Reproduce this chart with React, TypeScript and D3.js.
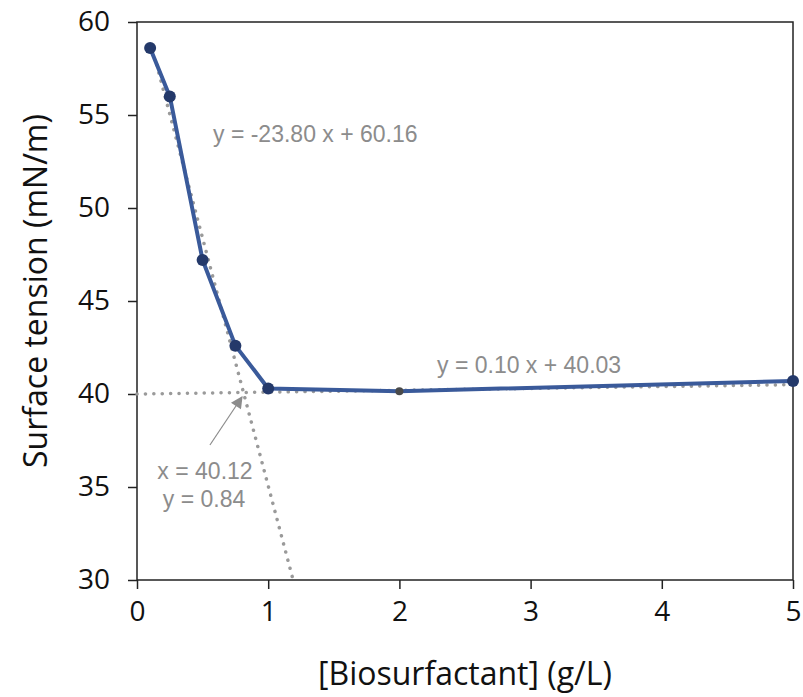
import React, { useEffect, useRef } from "react";
import * as d3 from "d3";

// measured concentrations (g/L) and surface tension (mN/m)
const concentrations = [0.1, 0.25, 0.5, 0.75, 1, 2, 5];
const tensions = [58.6, 56.0, 47.2, 42.6, 40.3, 40.15, 40.7];

// fitted trend lines, endpoints
const steepTrendX = [0.15, 1.19];
const steepTrendY = [57.7, 30];
const flatTrendX = [0, 5];
const flatTrendY = [40.0, 40.5];

const xTicks = [0, 1, 2, 3, 4, 5];
const yTicks = [30, 35, 40, 45, 50, 55, 60];

const steepLabel = "y = -23.80 x + 60.16";
const flatLabel = "y = 0.10 x + 40.03";
const crossLabel = ["x = 40.12", "y = 0.84"];

function App() {
  const ref = useRef<SVGSVGElement>(null);

  useEffect(() => {
    const width = 803;
    const height = 697;
    const margin = { top: 22, right: 10, bottom: 117, left: 137 };

    const svg = d3.select(ref.current);
    svg.selectAll("*").remove();

    const x = d3.scaleLinear().domain([0, 5]).range([margin.left, width - margin.right]);
    const y = d3.scaleLinear().domain([30, 60]).range([height - margin.bottom, margin.top]);

    const tickFont = "'Open Sans', sans-serif";
    const grey = "#8c8c8c";

    // frame
    svg
      .append("rect")
      .attr("x", x(0))
      .attr("y", y(60))
      .attr("width", x(5) - x(0))
      .attr("height", y(30) - y(60))
      .attr("fill", "none")
      .attr("stroke", "#222")
      .attr("stroke-width", 1.5);

    // y axis
    const yAxis = svg
      .append("g")
      .attr("transform", `translate(${x(0)},0)`)
      .call(d3.axisLeft(y).tickValues(yTicks).tickSize(9).tickPadding(18));
    yAxis.select(".domain").remove();
    yAxis.selectAll("line").attr("stroke", "#222").attr("stroke-width", 1.5);
    yAxis
      .selectAll("text")
      .attr("font-family", tickFont)
      .attr("font-size", 28)
      .attr("fill", "#111");

    // x axis
    const xAxis = svg
      .append("g")
      .attr("transform", `translate(0,${y(30)})`)
      .call(
        d3
          .axisBottom(x)
          .tickValues(xTicks)
          .tickFormat(d3.format("d"))
          .tickSize(9)
          .tickPadding(12)
      );
    xAxis.select(".domain").remove();
    xAxis.selectAll("line").attr("stroke", "#222").attr("stroke-width", 1.5);
    xAxis
      .selectAll("text")
      .attr("font-family", tickFont)
      .attr("font-size", 28)
      .attr("fill", "#111");

    // axis titles
    svg
      .append("text")
      .attr("x", (x(0) + x(5)) / 2)
      .attr("y", 685)
      .attr("text-anchor", "middle")
      .attr("font-family", tickFont)
      .attr("font-size", 32)
      .attr("fill", "#111")
      .text("[Biosurfactant] (g/L)");

    svg
      .append("text")
      .attr("transform", `translate(47,${(y(30) + y(60)) / 2 - 10}) rotate(-90)`)
      .attr("text-anchor", "middle")
      .attr("font-family", tickFont)
      .attr("font-size", 32)
      .attr("fill", "#111")
      .text("Surface tension (mN/m)");

    const line = d3
      .line<[number, number]>()
      .x((d) => x(d[0]))
      .y((d) => y(d[1]));

    // dotted trend lines
    const trends = [
      d3.zip(steepTrendX, steepTrendY) as [number, number][],
      d3.zip(flatTrendX, flatTrendY) as [number, number][],
    ];
    svg
      .append("g")
      .selectAll("path")
      .data(trends)
      .join("path")
      .attr("d", line)
      .attr("fill", "none")
      .attr("stroke", "#9a9a9a")
      .attr("stroke-width", 3.5)
      .attr("stroke-linecap", "round")
      .attr("stroke-dasharray", "0.1 8.3");

    // data series
    const points = d3.zip(concentrations, tensions) as [number, number][];
    svg
      .append("path")
      .datum(points)
      .attr("d", line)
      .attr("fill", "none")
      .attr("stroke", "#3a5a9a")
      .attr("stroke-width", 4)
      .attr("stroke-linejoin", "round");

    svg
      .append("g")
      .selectAll("circle")
      .data(points)
      .join("circle")
      .attr("cx", (d) => x(d[0]))
      .attr("cy", (d) => y(d[1]))
      .attr("r", (d, i) => (i === 5 ? 4 : 6))
      .attr("fill", (d, i) => (i === 5 ? "#4a4a4a" : "#24396a"));

    // equation labels
    const labelStyle = (t: d3.Selection<SVGTextElement, unknown, null, undefined>) =>
      t
        .attr("font-family", "'Liberation Sans', Arial, sans-serif")
        .attr("font-size", 23)
        .attr("fill", grey);

    svg
      .append("text")
      .attr("x", 213)
      .attr("y", 142)
      .call(labelStyle)
      .text(steepLabel);

    svg
      .append("text")
      .attr("x", 437)
      .attr("y", 373)
      .call(labelStyle)
      .text(flatLabel);

    svg
      .append("text")
      .attr("x", 205)
      .attr("y", 479)
      .attr("text-anchor", "middle")
      .call(labelStyle)
      .text(crossLabel[0]);
    svg
      .append("text")
      .attr("x", 204)
      .attr("y", 507)
      .attr("text-anchor", "middle")
      .call(labelStyle)
      .text(crossLabel[1]);

    // arrow toward the intersection
    svg
      .append("defs")
      .append("marker")
      .attr("id", "arrowhead")
      .attr("viewBox", "0 0 10 10")
      .attr("refX", 9)
      .attr("refY", 5)
      .attr("markerWidth", 14)
      .attr("markerHeight", 12)
      .attr("markerUnits", "userSpaceOnUse")
      .attr("orient", "auto")
      .append("path")
      .attr("d", "M0,0 L10,5 L0,10 Z")
      .attr("fill", grey);

    svg
      .append("line")
      .attr("x1", x(0.556))
      .attr("y1", y(37.26))
      .attr("x2", x(0.8))
      .attr("y2", y(39.84))
      .attr("stroke", grey)
      .attr("stroke-width", 1.2)
      .attr("marker-end", "url(#arrowhead)");
  }, []);

  return (
    <svg
      ref={ref}
      width={803}
      height={697}
      style={{ position: "absolute", left: 0, top: 0, background: "#fff" }}
    />
  );
}

export default App;
